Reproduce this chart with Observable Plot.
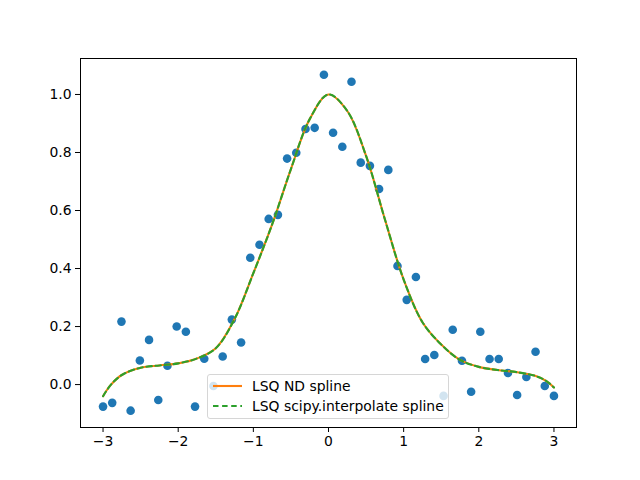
<!DOCTYPE html>
<html>
<head>
<meta charset="utf-8">
<script src="https://cdn.jsdelivr.net/npm/d3@7"></script>
<script src="https://cdn.jsdelivr.net/npm/@observablehq/plot@0.6"></script>
<style>
  body { margin: 0; background: #fff; font-family: "DejaVu Sans", sans-serif; }
  #wrap { position: relative; width: 640px; height: 480px; }
  #legend {
    position: absolute; left: 207px; top: 374px; width: 242px; height: 45px;
    background: rgba(255,255,255,0.8); border: 1px solid #d6d6d6; border-radius: 3px;
    box-sizing: border-box; font-size: 13.9px; color: #000;
  }
  .row { position: absolute; left: 5px; height: 18px; display: flex; align-items: center; }
  .row span { margin-left: 10px; white-space: nowrap; }
</style>
</head>
<body>
<div id="wrap"></div>
<script>
const pointX = [-3.000,-2.878,-2.755,-2.633,-2.510,-2.388,-2.265,-2.143,-2.020,-1.898,
  -1.776,-1.653,-1.531,-1.408,-1.286,-1.163,-1.041,-0.918,-0.796,-0.673,
  -0.551,-0.429,-0.306,-0.184,-0.061,0.061,0.184,0.306,0.429,0.551,
  0.673,0.796,0.918,1.041,1.163,1.286,1.408,1.531,1.653,1.776,
  1.898,2.020,2.143,2.265,2.388,2.510,2.633,2.755,2.878,3.000];
const pointY = [-0.076,-0.063,0.217,-0.090,0.083,0.154,-0.053,0.065,0.200,0.182,
  -0.076,0.089,-0.005,0.097,0.224,0.145,0.437,0.482,0.571,0.585,
  0.779,0.799,0.881,0.885,1.068,0.868,0.820,1.044,0.765,0.754,
  0.674,0.740,0.409,0.292,0.371,0.088,0.102,-0.039,0.189,0.082,
  -0.025,0.182,0.088,0.088,0.040,-0.036,0.026,0.113,-0.005,-0.039];

const curveX = [-3.0,-2.9,-2.75,-2.5,-2.25,-2.0,-1.75,-1.5,-1.25,-1.0,-0.75,-0.5,-0.25,0,
  0.25,0.5,0.75,1.0,1.25,1.5,1.75,2.0,2.25,2.5,2.75,2.9,3.0];
const curveY = [-0.040,-0.002,0.033,0.058,0.066,0.073,0.090,0.125,0.226,0.384,0.552,0.743,0.915,1.000,
  0.943,0.788,0.570,0.362,0.215,0.138,0.085,0.061,0.050,0.043,0.030,0.012,-0.010];

const xTicks = [-3,-2,-1,0,1,2,3];
const yTicks = [0.0,0.2,0.4,0.6,0.8,1.0];
const seriesNames = ["LSQ ND spline","LSQ scipy.interpolate spline"];
const seriesColors = ["#ff7f0e","#2ca02c"];

const points = pointX.map((x,i) => ({x, y: pointY[i]}));
const curve = curveX.map((x,i) => ({x, y: curveY[i]}));

const chart = Plot.plot({
  width: 640, height: 480,
  marginLeft: 80, marginRight: 64, marginTop: 58, marginBottom: 53,
  style: {fontFamily: "DejaVu Sans, sans-serif", fontSize: "13.9px", background: "#fff", color: "#000"},
  x: {domain: [-3.3, 3.3], ticks: xTicks, tickSize: 5, tickPadding: 4, tickFormat: d3.format("d"), label: null},
  y: {domain: [-0.148, 1.124], ticks: yTicks, tickSize: 5, tickPadding: 4, tickFormat: d3.format(".1f"), label: null},
  marks: [
    Plot.dot(points, {x: "x", y: "y", r: 4.3, fill: "#1f77b4", stroke: "none"}),
    Plot.line(curve, {x: "x", y: "y", stroke: seriesColors[0], strokeWidth: 2.1, curve: "catmull-rom"}),
    Plot.line(curve, {x: "x", y: "y", stroke: seriesColors[1], strokeWidth: 2.1, strokeDasharray: "5.5,3.6", curve: "catmull-rom"}),
    Plot.frame({stroke: "#000", strokeWidth: 1})
  ]
});
document.getElementById("wrap").appendChild(chart);

const legend = document.createElement("div");
legend.id = "legend";
seriesNames.forEach((name, i) => {
  const row = document.createElement("div");
  row.className = "row";
  row.style.top = (i === 0 ? 2 : 21.5) + "px";
  const dash = i === 1 ? 'stroke-dasharray="5.5,3.6"' : '';
  row.innerHTML = `<svg width="29" height="6"><line x1="0" y1="3" x2="29" y2="3" stroke="${seriesColors[i]}" stroke-width="2.1" ${dash}/></svg><span>${name}</span>`;
  legend.appendChild(row);
});
document.getElementById("wrap").appendChild(legend);
</script>
</body>
</html>
